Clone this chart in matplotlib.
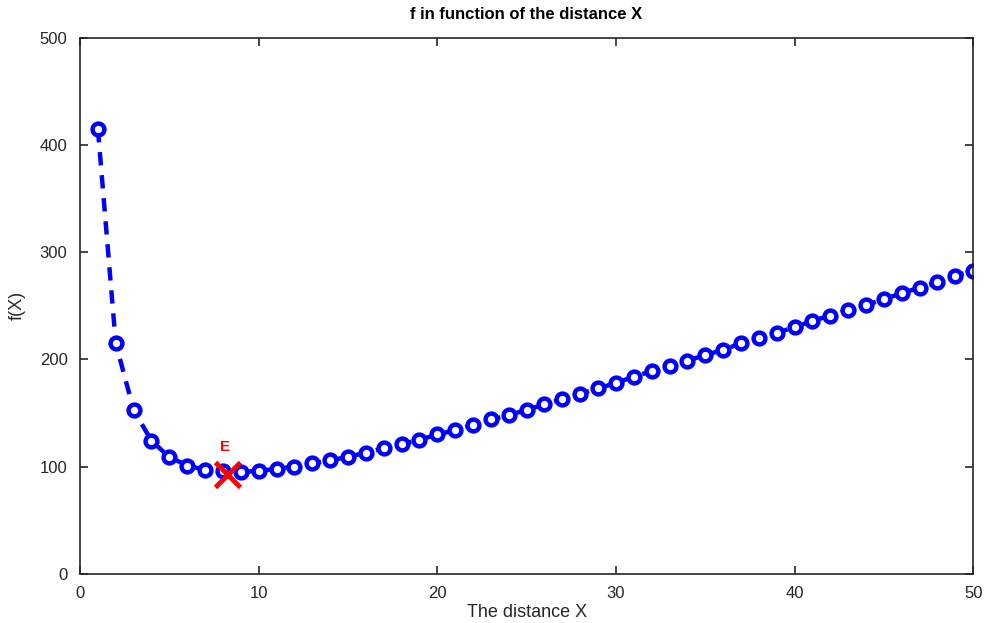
import matplotlib
matplotlib.use("Agg")
import matplotlib.pyplot as plt

plt.rcParams["font.family"] = ["Liberation Sans", "DejaVu Sans"]

# data
x_vals = list(range(1, 51))
f_vals = [415, 215, 153, 124, 109, 101, 97, 96, 95, 96,
          98, 100, 103, 106, 109, 113, 117, 121, 125, 130,
          134, 139, 144, 148, 153, 158, 163, 168, 173, 178,
          184, 189, 194, 199, 204, 209, 215, 220, 225, 230,
          236, 241, 246, 251, 256, 262, 267, 272, 278, 283]
e_point = (8.2, 93)
e_label = "E"

fig = plt.figure(figsize=(9.88, 6.23), dpi=100)
ax = fig.add_axes([0.081, 0.079, 0.904, 0.860])

ax.plot(x_vals, f_vals, "--o", color="#0000ff", lw=3.2, ms=8.5,
        mfc="white", mec="#0000ff", mew=3.2, dashes=(3, 2.2))
ax.plot(*e_point, "x", color="#ff0000", ms=18, mew=3.5, zorder=5)
ax.text(e_point[0] - 0.1, e_point[1] + 25, e_label, color="#ff0000",
        fontsize=11, fontweight="bold", ha="center", va="center")

ax.set_xlim(0, 50)
ax.set_ylim(0, 500)
ax.set_xticks(range(0, 51, 10))
ax.set_yticks(range(0, 501, 100))
ax.tick_params(direction="in", top=True, right=True, length=6,
               labelsize=12, colors="#262626", width=1.2, pad=9)
for s in ax.spines.values():
    s.set_color("#262626")
    s.set_linewidth(1.2)

ax.set_xlabel("The distance X", fontsize=13, color="#262626", labelpad=2)
ax.set_ylabel("f(X)", fontsize=13, color="#262626", labelpad=10)
ax.set_title("f in function of the distance X", fontsize=12,
             fontweight="bold", pad=14)

fig.savefig("out.png", dpi=100)
